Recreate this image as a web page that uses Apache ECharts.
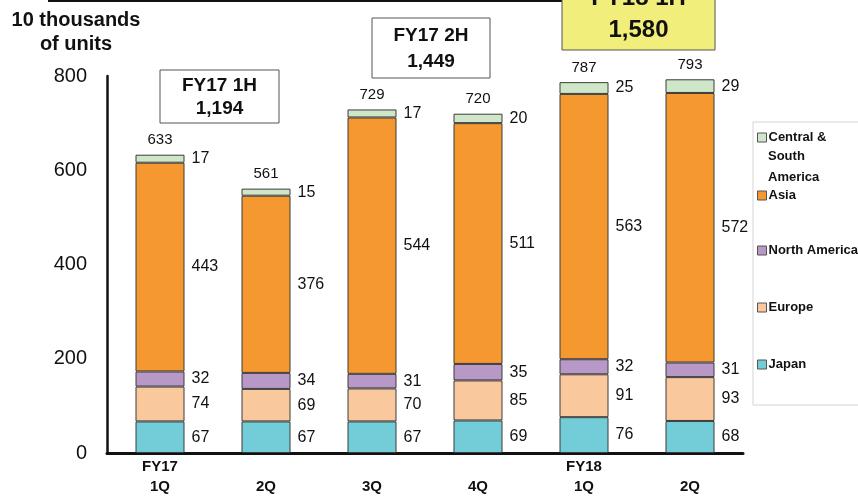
<!DOCTYPE html>
<html>
<head>
<meta charset="utf-8">
<script src="https://cdn.jsdelivr.net/npm/echarts@6/dist/echarts.min.js"></script>
<style>
  html, body { margin: 0; padding: 0; background: #fff; }
  #chart { width: 858px; height: 498px; }
</style>
</head>
<body>
<div id="chart"></div>
<script>
// Quarterly unit sales by region (10 thousands of units)
const quarters = ['1Q', '2Q', '3Q', '4Q', '1Q', '2Q'];
const fiscalYears = ['FY17', '', '', '', 'FY18', ''];
const japan = [67, 67, 67, 69, 76, 68];
const europe = [74, 69, 70, 85, 91, 93];
const northAmerica = [32, 34, 31, 35, 32, 31];
const asia = [443, 376, 544, 511, 563, 572];
const centralSouthAmerica = [17, 15, 17, 20, 25, 29];
const yTicks = [0, 200, 400, 600, 800];
const halfYearLabels = ['FY17 1H', 'FY17 2H', 'FY18 1H'];
const halfYearTotals = ['1,194', '1,449', '1,580'];

const totals = japan.map((v, i) => v + europe[i] + northAmerica[i] + asia[i] + centralSouthAmerica[i]);

const FONT = 'Arial, "Liberation Sans", sans-serif';
const regions = [
  { name: 'Japan', data: japan, color: '#72cdd8' },
  { name: 'Europe', data: europe, color: '#f9c99d' },
  { name: 'North America', data: northAmerica, color: '#b798c7' },
  { name: 'Asia', data: asia, color: '#f4982f' },
  { name: 'Central & South America', data: centralSouthAmerica, color: '#cfe6c8' }
];

const barSeries = regions.map(r => ({
  name: r.name,
  type: 'bar',
  stack: 'units',
  data: r.data,
  barWidth: 49,
  itemStyle: { color: r.color, borderColor: '#3a3a3a', borderWidth: 1 },
  label: {
    show: true,
    position: 'right',
    distance: 7,
    color: '#111',
    fontFamily: FONT,
    fontSize: 16
  },
  emphasis: { disabled: true }
}));

// Quarter totals sit just above each stack
const totalSeries = {
  name: 'Total',
  type: 'scatter',
  data: totals,
  symbolSize: 0,
  itemStyle: { opacity: 1 },
  label: {
    show: true,
    position: 'top',
    distance: 7,
    color: '#111',
    fontFamily: FONT,
    fontSize: 15
  },
  emphasis: { disabled: true }
};

// One legend block per region so the spacing follows the side panel
const legendRows = [
  { name: 'Central & South America', y: 134, text: 'Central &' },
  { name: 'Asia', y: 192 },
  { name: 'North America', y: 247 },
  { name: 'Europe', y: 304 },
  { name: 'Japan', y: 361 }
];
const legends = legendRows.map(row => ({
  data: [row.name],
  left: 752,
  top: row.y - 8,
  orient: 'vertical',
  itemWidth: 9,
  itemHeight: 9,
  icon: 'rect',
  selectedMode: false,
  formatter: () => row.text || row.name,
  itemStyle: { borderColor: '#555', borderWidth: 1 },
  textStyle: { fontFamily: FONT, fontSize: 13, fontWeight: 'bold', color: '#111', padding: [0, 0, 0, -3] }
}));

function summaryBox(x, y, w, h, title, total, fill, size) {
  return {
    type: 'group',
    children: [
      { type: 'rect', shape: { x: x, y: y, width: w, height: h },
        style: { fill: fill, stroke: '#555', lineWidth: 1 } },
      { type: 'text', style: { x: x + w / 2, y: y + h * 0.3, text: title, align: 'center', verticalAlign: 'middle',
        font: 'bold ' + size + 'px ' + FONT, fill: '#111' } },
      { type: 'text', style: { x: x + w / 2, y: y + h * 0.73, text: total, align: 'center', verticalAlign: 'middle',
        font: 'bold ' + size + 'px ' + FONT, fill: '#111' } }
    ]
  };
}

const chart = echarts.init(document.getElementById('chart'));
chart.setOption({
  animation: false,
  backgroundColor: '#fff',
  grid: { left: 107, right: 115, top: 76, bottom: 45, containLabel: false },
  legend: legends,
  xAxis: {
    type: 'category',
    data: quarters,
    axisLine: { lineStyle: { color: '#111', width: 3 } },
    axisTick: { show: false },
    axisLabel: {
      interval: 0,
      margin: 4,
      color: '#111',
      fontFamily: FONT,
      fontSize: 15,
      fontWeight: 'bold',
      lineHeight: 20,
      formatter: (v, i) => fiscalYears[i] + '\n' + v
    }
  },
  yAxis: {
    type: 'value',
    min: yTicks[0],
    max: yTicks[yTicks.length - 1],
    interval: yTicks[1] - yTicks[0],
    axisLine: { show: true, lineStyle: { color: '#111', width: 2.5 } },
    axisTick: { show: false },
    splitLine: { show: false },
    axisLabel: { margin: 20, color: '#111', fontFamily: FONT, fontSize: 20 }
  },
  series: barSeries.concat([totalSeries]),
  graphic: [
    { type: 'text', style: { x: 76, y: 8, text: '10 thousands\nof units', align: 'center',
      font: 'bold 20px ' + FONT, lineHeight: 24, fill: '#111' } },
    { type: 'line', shape: { x1: 48, y1: 1, x2: 562, y2: 1 }, style: { stroke: '#111', lineWidth: 2 } },
    { type: 'rect', shape: { x: 753, y: 122, width: 110, height: 283 },
      style: { fill: 'none', stroke: '#d4d4d4', lineWidth: 1 }, z: -1 },
    { type: 'text', style: { x: 768, y: 146, text: 'South\nAmerica', font: 'bold 13px ' + FONT,
      lineHeight: 21, fill: '#111' } },
    summaryBox(160, 70, 119, 53, halfYearLabels[0], halfYearTotals[0], '#fff', 19),
    summaryBox(372, 18, 118, 60, halfYearLabels[1], halfYearTotals[1], '#fff', 19),
    summaryBox(562, -24, 153, 74, halfYearLabels[2], halfYearTotals[2], '#f2ee7c', 24)
  ]
});
</script>
</body>
</html>
